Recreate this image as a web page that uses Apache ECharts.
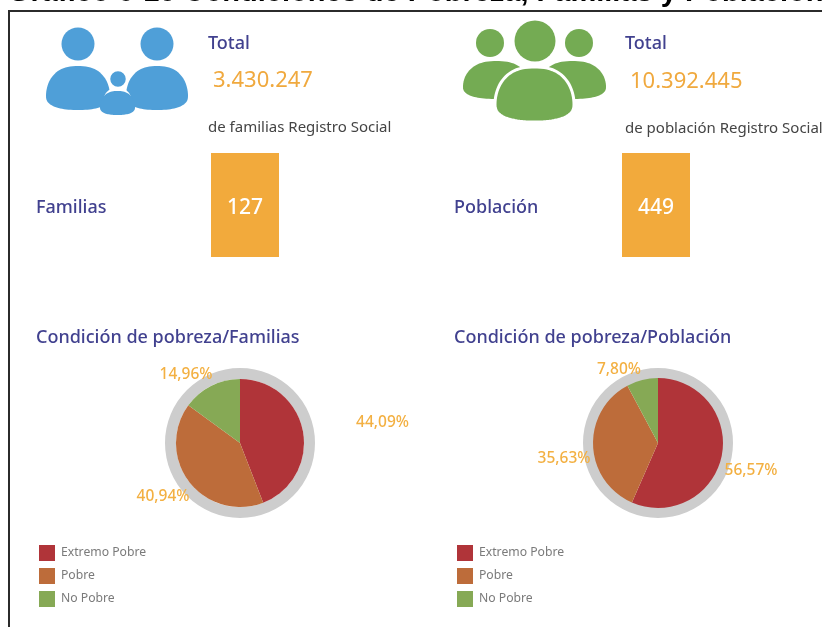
<!DOCTYPE html>
<html>
<head>
<meta charset="utf-8">
<style>html,body{margin:0;padding:0;background:#fff}#c{width:822px;height:627px}</style>
<script src="https://cdn.jsdelivr.net/npm/echarts@6/dist/echarts.min.js"></script>
</head>
<body>
<div id="c"></div>
<script>
const chartTitle = 'Gráfico 6-10 Condiciones de Pobreza, Familias y Población';
const categories = ['Extremo Pobre', 'Pobre', 'No Pobre'];
const familiasPct = [44.09, 40.94, 14.96];
const poblacionPct = [56.57, 35.63, 7.80];
const sliceColors = ['#b03439', '#bd6c3a', '#86a955'];
const totals = ['3.430.247', '10.392.445'];
const kpis = ['127', '449'];

const FONT = '"Noto Sans", sans-serif';
const NAVY = '#41418f', ORANGE = '#f0a93e', BLUE = '#4f9fd8', GREEN = '#74ab53';

const chart = echarts.init(document.getElementById('c'));

const fmt = v => v.toFixed(2).replace('.', ',') + '%';

function txt(x, y, text, size, fill, weight, align) {
  return {type:'text', z:20, x, y, style:{text, fontSize:size, fill, fontFamily:FONT,
    fontWeight:weight||400, align:align||'left', verticalAlign:'middle'}};
}
function circle(cx, cy, r, fill, halo) {
  return {type:'circle', z:halo?12:10, shape:{cx, cy, r},
    style:{fill, stroke:halo?'#fff':null, lineWidth:halo||0}};
}
// person's shoulders: a rounded dome outline traced as a polygon
function dome(x0, x1, top, bottom, fill, halo, z) {
  const cx = (x0+x1)/2, a = (x1-x0)/2, h = bottom-top, widest = top+h*0.68;
  const pts = [];
  for (let k = 0; k <= 90; k++) {
    const t = Math.PI*2*k/90, c = Math.cos(t), s = Math.sin(t);
    const px = cx + a*Math.sign(c)*Math.pow(Math.abs(c), s < 0 ? 0.8 : 0.85);
    const py = s < 0 ? widest + (widest-top)*s : widest + (bottom-widest)*Math.sign(s)*Math.pow(Math.abs(s), 0.8);
    pts.push([px, py]);
  }
  return {type:'polygon', z:z||10, shape:{points:pts},
    style:{fill, stroke:halo?'#fff':null, lineWidth:halo||0}};
}

const graphics = [
  {type:'text', z:4, x:8, y:7, style:{text:chartTitle, fontFamily:'"Liberation Sans", Arial, sans-serif',
    fontWeight:'bold', fontSize:29, fill:'#000', align:'left', verticalAlign:'bottom'}},
  {type:'rect', z:5, shape:{x:8, y:10, width:814, height:2}, style:{fill:'#2b2b2b'}},
  {type:'rect', z:5, shape:{x:8, y:10, width:2, height:617}, style:{fill:'#2b2b2b'}},
  // family icon
  circle(78, 44, 16.5, BLUE), circle(157, 44, 16.5, BLUE),
  dome(46, 110, 66, 110, BLUE), dome(126, 188, 66, 110, BLUE),
  dome(103, 132, 88, 110, '#fff', 0, 11),
  circle(118, 79, 9, BLUE, 2.5), dome(100, 135, 91, 115, BLUE, 0, 12),
  // population icon
  circle(535, 41, 20.5, GREEN), circle(490, 43, 14, GREEN), circle(579, 43, 14, GREEN),
  dome(463, 530, 61, 99, GREEN), dome(539, 606, 61, 99, GREEN),
  dome(495, 574, 67, 122, GREEN, 3, 12),
  // text blocks
  txt(208, 43.5, 'Total', 18, NAVY, 500),
  txt(213, 81, totals[0], 22, ORANGE),
  txt(208, 127.5, 'de familias Registro Social', 15, '#444'),
  txt(625, 43.5, 'Total', 18, NAVY, 500),
  txt(630, 82, totals[1], 22, ORANGE),
  txt(625, 128.5, 'de población Registro Social', 15, '#444'),
  txt(36, 208, 'Familias', 18, NAVY, 500),
  txt(454, 208, 'Población', 18, NAVY, 500),
  {type:'rect', z:5, shape:{x:211, y:153, width:68, height:104}, style:{fill:'#f2aa3c'}},
  {type:'rect', z:5, shape:{x:622, y:153, width:68, height:104}, style:{fill:'#f2aa3c'}},
  txt(245, 208, kpis[0], 21, '#fff', 500, 'center'),
  txt(656, 208, kpis[1], 21, '#fff', 500, 'center'),
  txt(36, 338, 'Condición de pobreza/Familias', 18, NAVY, 500),
  txt(454, 338, 'Condición de pobreza/Población', 18, NAVY, 500)
];

function ring(center) {
  return {type:'pie', silent:true, z:1, center, radius:[64, 75], startAngle:90,
    label:{show:false}, labelLine:{show:false}, itemStyle:{color:'#cdcdcd'}, data:[{name:'anillo', value:1}]};
}
function pie(center, r, values, labelPos) {
  return {type:'pie', z:3, center, radius:[0, r], startAngle:90, clockwise:true, silent:true,
    itemStyle:{borderWidth:0},
    data:categories.map((name,i)=>({name, value:values[i], itemStyle:{color:sliceColors[i]}})),
    label:{show:true, position:'outside', formatter:p=>fmt(p.value), color:'#f3b042',
      fontFamily:FONT, fontSize:15.5, fontWeight:500, width:80, overflow:'none'},
    labelLine:{show:false},
    labelLayout:p=>({x:labelPos[p.dataIndex][0], y:labelPos[p.dataIndex][1], align:'center', verticalAlign:'middle'})
  };
}
function legend(left) {
  return {orient:'vertical', left, top:545, padding:0, itemWidth:16, itemHeight:16, itemGap:7, icon:'rect',
    selectedMode:false, data:categories,
    textStyle:{color:'#7a7a7a', fontFamily:FONT, fontSize:12.2, padding:[0,0,0,1]}};
}

chart.setOption({
  animation:false,
  backgroundColor:'#fff',
  legend:[legend(39), legend(457)],
  graphic:graphics,
  series:[
    ring([240,443]),
    pie([240,443], 64, familiasPct, [[382.5,422.5],[163,496.5],[186,374.5]]),
    ring([658,443]),
    pie([658,443], 65, poblacionPct, [[751,470.5],[564,458.5],[619,369.5]])
  ]
});
</script>
</body>
</html>
